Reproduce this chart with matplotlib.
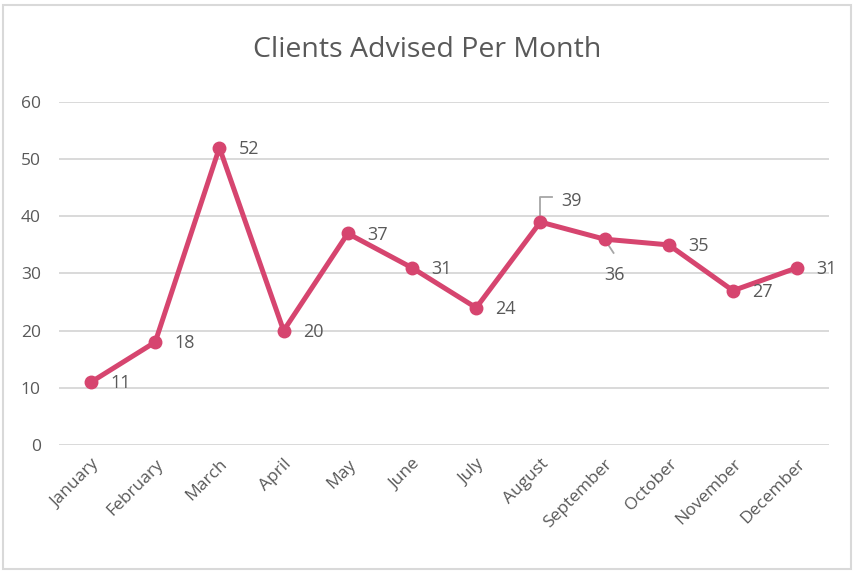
import matplotlib.pyplot as plt
from matplotlib.patches import Rectangle

# ---------------- DATA ----------------
months = ["January", "February", "March", "April", "May", "June",
          "July", "August", "September", "October", "November", "December"]
clients = [11, 18, 52, 20, 37, 31, 24, 39, 36, 35, 27, 31]
y_ticks = [0, 10, 20, 30, 40, 50, 60]
# --------------------------------------

LINE_COLOR = "#D6456F"
TEXT_COLOR = "#595959"
GRID_COLOR = "#D9D9D9"

plt.rcParams['font.family'] = ['Open Sans', 'DejaVu Sans']

fig = plt.figure(figsize=(8.54, 5.71), dpi=100)
ax = fig.add_axes([0.069, 0.2207, 0.902, 0.6007])

# outer chart border
fig.patches.append(Rectangle((0.004, 0.004), 0.992, 0.987, transform=fig.transFigure,
                             fill=False, edgecolor="#D9D9D9", linewidth=1.5))

x = list(range(len(months)))
ax.plot(x, clients, color=LINE_COLOR, linewidth=3.6, marker="o",
        markersize=9, zorder=3)

# data labels
for i, v in enumerate(clients):
    if months[i] == "August":
        ax.annotate(str(v), xy=(i, v), xytext=(15, 15), textcoords="offset points",
                    fontsize=13, color=TEXT_COLOR, va="center", ha="left")
        ax.plot([i, i, i + 0.18], [v, v + 4.3, v + 4.3], color="#A6A6A6",
                linewidth=1.3, zorder=2)
    elif months[i] == "September":
        ax.annotate(str(v), xy=(i, v), xytext=(0, -26), textcoords="offset points",
                    fontsize=13, color=TEXT_COLOR, va="center", ha="left")
        ax.plot([i, i + 0.14], [v, v - 2.4], color="#A6A6A6", linewidth=1.3, zorder=2)
    else:
        ax.annotate(str(v), xy=(i, v), xytext=(14, -1), textcoords="offset points",
                    fontsize=13, color=TEXT_COLOR, va="center", ha="left")

ax.set_xlim(-0.5, len(months) - 0.5)
ax.set_ylim(0, 60)
ax.set_yticks(y_ticks)
ax.set_xticks(x)
ax.set_xticklabels(months, rotation=45, ha="right", rotation_mode="anchor")
ax.tick_params(axis="both", length=0, colors=TEXT_COLOR, labelsize=12.5)
ax.tick_params(axis="y", pad=13)
ax.tick_params(axis="x", pad=8)
ax.grid(axis="y", color=GRID_COLOR, linewidth=1.4)
ax.set_axisbelow(True)
for s in ax.spines.values():
    s.set_visible(False)

fig.text(0.5, 0.912, "Clients Advised Per Month", ha="center", va="center",
         fontsize=20.5, color=TEXT_COLOR)

fig.savefig("out.png", dpi=100)
